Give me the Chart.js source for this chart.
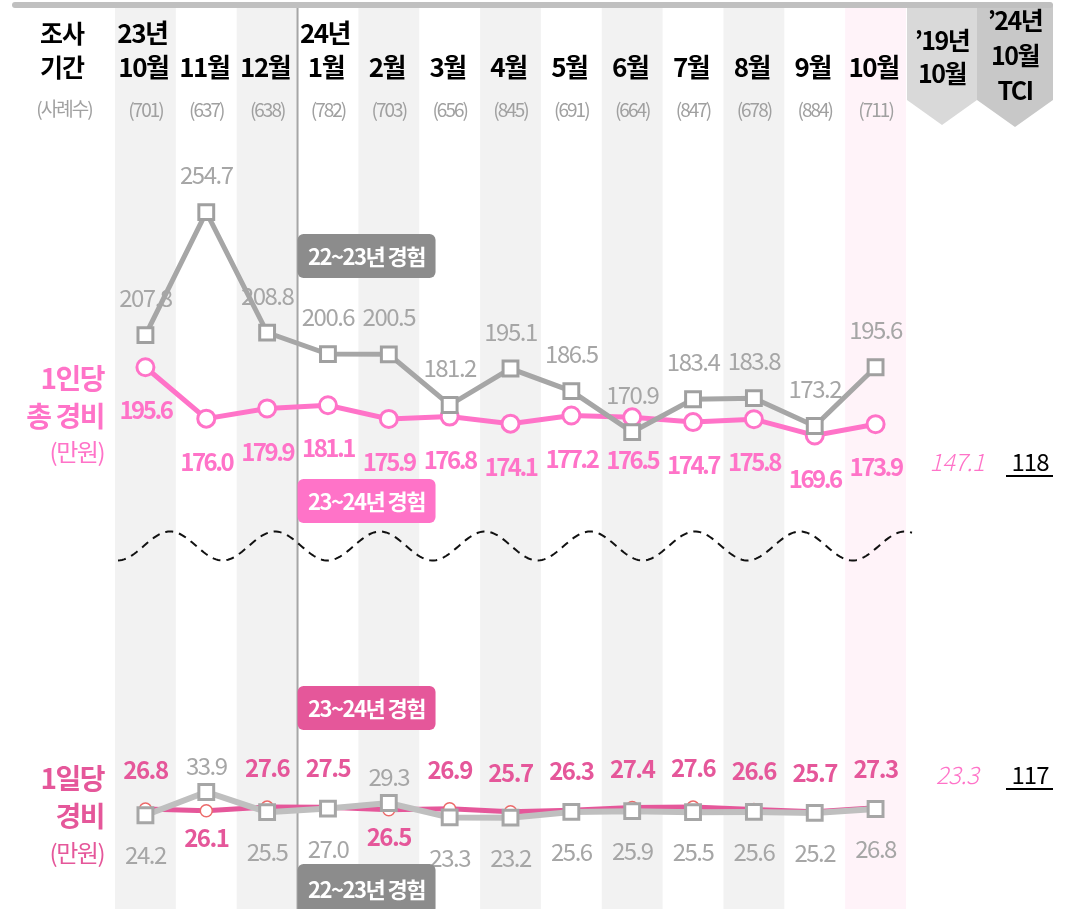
<!DOCTYPE html>
<html>
<head>
<meta charset="utf-8">
<script src="https://cdn.jsdelivr.net/npm/chart.js@4.4.1/dist/chart.umd.min.js"></script>
<style>
  html, body { margin: 0; padding: 0; background: #fff; }
  canvas { display: block; }
</style>
</head>
<body>
<canvas id="chart" width="1067" height="909"></canvas>
<script>
// ---- data ----
const months = ['10월', '11월', '12월', '1월', '2월', '3월', '4월', '5월', '6월', '7월', '8월', '9월', '10월'];
const yearTags = ['23년', '', '', '24년', '', '', '', '', '', '', '', '', ''];
const samples = [701, 637, 638, 782, 703, 656, 845, 691, 664, 847, 678, 884, 711];

// 1인당 총 경비 (만원)
const totalPrev = [207.8, 254.7, 208.8, 200.6, 200.5, 181.2, 195.1, 186.5, 170.9, 183.4, 183.8, 173.2, 195.6];
const totalCur = [195.6, 176.0, 179.9, 181.1, 175.9, 176.8, 174.1, 177.2, 176.5, 174.7, 175.8, 169.6, 173.9];

// 1일당 경비 (만원)
const dailyPrev = [24.2, 33.9, 25.5, 27.0, 29.3, 23.3, 23.2, 25.6, 25.9, 25.5, 25.6, 25.2, 26.8];
const dailyCur = [26.8, 26.1, 27.6, 27.5, 26.5, 26.9, 25.7, 26.3, 27.4, 27.6, 26.6, 25.7, 27.3];

// reference columns: '19년 10월, '24년 10월 TCI
const ref2019 = ['147.1', '23.3'];
const refTci = ['118', '117'];

const FONT = '"Noto Sans CJK KR", "Noto Sans", sans-serif';
const PINK = '#ff73c8';
const PINK_DARK = '#e5579a';
const GRAY_TXT = '#a6a6a6';

function font(weight, size, style) {
  return (style || '') + ' ' + weight + ' ' + size + 'px ' + FONT;
}

function text(ctx, str, x, y, opts) {
  ctx.save();
  ctx.font = opts.font;
  ctx.fillStyle = opts.color || '#000';
  ctx.textAlign = opts.align || 'center';
  ctx.textBaseline = 'middle';
  ctx.letterSpacing = opts.spacing || '0px';
  ctx.fillText(str, x, y);
  ctx.restore();
}

function badge(ctx, str, x, y, w, h, fill) {
  ctx.save();
  ctx.fillStyle = fill;
  ctx.beginPath();
  ctx.roundRect(x, y, w, h, 6);
  ctx.fill();
  ctx.restore();
  text(ctx, str, x + w / 2, y + h / 2 + 1, { font: font(700, 22), color: '#fff', spacing: '-1.5px' });
}

// column shading, divider, wave and header boxes
const backdrop = {
  id: 'backdrop',
  beforeDatasetsDraw(chart) {
    const { ctx } = chart;
    const x = chart.scales.x;
    const w = x.getPixelForValue(1) - x.getPixelForValue(0);
    months.forEach((m, i) => {
      const cx = x.getPixelForValue(i);
      if (i === months.length - 1) ctx.fillStyle = '#fff3f9';
      else if (i % 2 === 0) ctx.fillStyle = '#f2f2f2';
      else return;
      ctx.fillRect(cx - w / 2, 8, w, 909);
    });

    // year divider
    const divX = x.getPixelForValue(3) - w / 2;
    ctx.save();
    ctx.strokeStyle = '#a6a6a6';
    ctx.lineWidth = 2;
    ctx.beginPath();
    ctx.moveTo(divX, 8);
    ctx.lineTo(divX, 909);
    ctx.stroke();
    ctx.restore();

    // axis break wave
    ctx.save();
    ctx.strokeStyle = '#111';
    ctx.lineWidth = 2;
    ctx.setLineDash([8, 6]);
    ctx.beginPath();
    for (let px = 118; px <= 913; px += 2) {
      const py = 546 - 14.5 * Math.sin(2 * Math.PI * (px - 143.75) / 105);
      if (px === 118) ctx.moveTo(px, py); else ctx.lineTo(px, py);
    }
    ctx.stroke();
    ctx.restore();

    // header arrow boxes
    const boxes = [
      { l: 907, r: 977, tip: 125, fill: '#d9d9d9' },
      { l: 977, r: 1053, tip: 127, fill: '#c8c8c8' }
    ];
    boxes.forEach(b => {
      ctx.fillStyle = b.fill;
      ctx.beginPath();
      ctx.moveTo(b.l, 4);
      ctx.lineTo(b.r, 4);
      ctx.lineTo(b.r, 100);
      ctx.lineTo((b.l + b.r) / 2, b.tip);
      ctx.lineTo(b.l, 100);
      ctx.closePath();
      ctx.fill();
    });

    // top rule
    ctx.fillStyle = '#c0c0c0';
    ctx.beginPath();
    ctx.roundRect(12, 2, 1041, 6, 3);
    ctx.fill();
  },

  afterDatasetsDraw(chart) {
    const { ctx } = chart;
    const x = chart.scales.x;
    const w = x.getPixelForValue(1) - x.getPixelForValue(0);
    const pts = k => chart.getDatasetMeta(k).data;

    // header
    text(ctx, '조사', 62, 33, { font: font(700, 25), spacing: '-1px' });
    text(ctx, '기간', 62, 67, { font: font(700, 25), spacing: '-1px' });
    text(ctx, '(사례수)', 64, 109, { font: font(400, 19), color: '#a0a0a0', spacing: '-2px' });
    months.forEach((m, i) => {
      const cx = x.getPixelForValue(i);
      if (yearTags[i]) text(ctx, yearTags[i], cx - 3, 33, { font: font(700, 26), spacing: '-1.5px' });
      text(ctx, m, cx - 2, 67, { font: font(700, 26), spacing: '-1.5px' });
      text(ctx, '(' + samples[i] + ')', cx, 110, { font: font(400, 19), color: '#a0a0a0', spacing: '-2px' });
    });
    text(ctx, '\u201919년', 942, 40, { font: font(700, 25), spacing: '-1.5px' });
    text(ctx, '10월', 942, 73, { font: font(700, 25), spacing: '-1.5px' });
    text(ctx, '\u201924년', 1015, 20, { font: font(700, 25), spacing: '-1.5px' });
    text(ctx, '10월', 1015, 55, { font: font(700, 25), spacing: '-1.5px' });
    text(ctx, 'TCI', 1015, 90, { font: font(700, 25), spacing: '-1.5px' });

    // series titles
    text(ctx, '1인당', 104, 378, { font: font(700, 28), color: PINK, align: 'right', spacing: '-1.5px' });
    text(ctx, '총 경비', 104, 416, { font: font(700, 28), color: PINK, align: 'right', spacing: '-1.5px' });
    text(ctx, '(만원)', 104, 452, { font: font(400, 24), color: PINK, align: 'right', spacing: '-1.5px' });
    text(ctx, '1일당', 104, 778, { font: font(700, 28), color: PINK_DARK, align: 'right', spacing: '-1.5px' });
    text(ctx, '경비', 104, 816, { font: font(700, 28), color: PINK_DARK, align: 'right', spacing: '-1.5px' });
    text(ctx, '(만원)', 104, 853, { font: font(400, 24), color: PINK_DARK, align: 'right', spacing: '-1.5px' });

    // top panel value labels
    pts(0).forEach((p, i) => {
      text(ctx, totalPrev[i].toFixed(1), p.x, p.y - 37, { font: font(400, 24), color: GRAY_TXT, spacing: '-1.5px' });
    });
    pts(1).forEach((p, i) => {
      text(ctx, totalCur[i].toFixed(1), p.x, p.y + 43, { font: font(700, 24), color: PINK, spacing: '-2.5px' });
    });

    // bottom panel value labels: larger value above, smaller below
    const gp = pts(2), cp = pts(3);
    months.forEach((m, i) => {
      const curUp = dailyCur[i] >= dailyPrev[i];
      text(ctx, dailyCur[i].toFixed(1), cp[i].x, cp[i].y + (curUp ? -39 : 27),
        { font: font(700, 24), color: PINK_DARK, spacing: '-1.5px' });
      text(ctx, dailyPrev[i].toFixed(1), gp[i].x, gp[i].y + (curUp ? 40 : -26),
        { font: font(400, 24), color: GRAY_TXT, spacing: '-1.5px' });
    });

    // reference values
    [462, 775].forEach((ry, k) => {
      text(ctx, ref2019[k], 957, ry, { font: font(300, 24, 'italic'), color: PINK, spacing: '-0.5px' });
      text(ctx, refTci[k], 1030, ry, { font: font(400, 24), spacing: '-1px' });
      ctx.fillStyle = '#000';
      ctx.fillRect(1006, ry + 13, 47, 2);
    });

    // experience badges
    const bx = x.getPixelForValue(3) - w / 2;
    badge(ctx, '22~23년 경험', bx, 234, 138, 44, '#8c8c8c');
    badge(ctx, '23~24년 경험', bx, 479, 138, 44, PINK);
    badge(ctx, '23~24년 경험', bx, 686, 138, 44, PINK_DARK);
    badge(ctx, '22~23년 경험', bx, 864, 138, 50, '#8c8c8c');
  }
};

new Chart(document.getElementById('chart'), {
  type: 'line',
  data: {
    labels: months,
    datasets: [
      {
        label: '22~23년 경험 (1인당)',
        data: totalPrev,
        yAxisID: 'y',
        order: 1,
        borderColor: '#a6a6a6',
        borderWidth: 5,
        pointStyle: 'rect',
        pointRadius: 10.5,
        pointBackgroundColor: '#fff',
        pointBorderColor: '#a0a0a0',
        pointBorderWidth: 3
      },
      {
        label: '23~24년 경험 (1인당)',
        data: totalCur,
        yAxisID: 'y',
        order: 2,
        borderColor: PINK,
        borderWidth: 5,
        pointStyle: 'circle',
        pointRadius: 8.5,
        pointBackgroundColor: '#fff',
        pointBorderColor: PINK,
        pointBorderWidth: 3
      },
      {
        label: '22~23년 경험 (1일당)',
        data: dailyPrev,
        yAxisID: 'y2',
        order: 1,
        borderColor: '#bfbfbf',
        borderWidth: 6,
        pointStyle: 'rect',
        pointRadius: 10.5,
        pointBackgroundColor: '#fff',
        pointBorderColor: '#a6a6a6',
        pointBorderWidth: 3
      },
      {
        label: '23~24년 경험 (1일당)',
        data: dailyCur,
        yAxisID: 'y2',
        order: 2,
        borderColor: PINK_DARK,
        borderWidth: 5,
        pointStyle: 'circle',
        pointRadius: 6,
        pointBackgroundColor: '#fff',
        pointBorderColor: '#ec6a6a',
        pointBorderWidth: 1.5
      }
    ]
  },
  options: {
    responsive: false,
    animation: false,
    devicePixelRatio: 1,
    events: [],
    layout: { autoPadding: false, padding: { left: 115, right: 161, top: 0, bottom: 0 } },
    plugins: {
      legend: { display: false },
      tooltip: { enabled: false }
    },
    scales: {
      x: { display: false, offset: true },
      y: { display: false, min: -10.8, max: 335.5 },
      y2: { display: false, min: -14.85, max: 363.9 }
    }
  },
  plugins: [backdrop]
});
</script>
</body>
</html>
